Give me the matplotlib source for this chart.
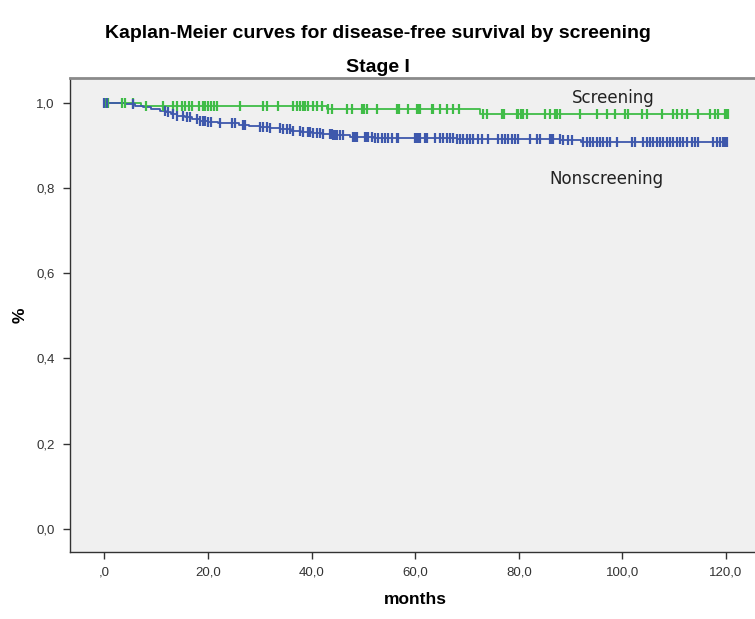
import numpy as np
import matplotlib
matplotlib.use("Agg")
from matplotlib import pyplot as plt
from matplotlib.ticker import FuncFormatter

plt.rcParams['font.family'] = ['Liberation Sans', 'DejaVu Sans']

# Kaplan-Meier step data (months, survival)
scr_times = [0, 7.0, 43.0, 72.5, 120.4]
scr_surv = [1.0, 0.994, 0.985, 0.973, 0.973]
scr_censor = [0.1, 0.7, 3.4, 4.0, 5.5, 8.0, 11.3, 13.3, 14.0, 15.0, 15.6, 16.3, 16.9,
              18.3, 19.1, 19.4, 20.0, 20.6, 21.2, 21.8, 26.2, 30.6, 31.4, 33.5, 36.4,
              37.2, 37.8, 38.4, 38.8, 39.3, 40.3, 41.1, 42.0, 43.2, 43.9, 46.8, 47.8,
              49.7, 50.1, 50.7, 52.6, 56.5, 56.9, 58.6, 60.4, 60.6, 60.9, 63.3, 63.4,
              64.8, 66.1, 67.3, 68.5, 73.1, 73.9, 76.8, 77.2, 79.7, 79.9, 80.4, 80.8,
              81.6, 85.1, 86.0, 87.0, 87.4, 87.9, 91.8, 95.1, 97.0, 98.6, 100.5, 101.1,
              103.8, 104.8, 107.6, 109.7, 110.5, 111.5, 112.5, 114.6, 116.9, 117.9,
              118.5, 119.8, 120.2, 120.4]

non_times = [0, 4, 6, 7.5, 9, 10.8, 12, 12.8, 14, 15.5, 17, 18.5, 20, 22, 26, 28, 30,
             32, 34, 36, 38, 40, 42, 44, 47.5, 52, 57, 68, 88, 92, 120.2]
non_surv = [1.0, 0.998, 0.994, 0.990, 0.986, 0.982, 0.978, 0.975, 0.970, 0.967, 0.962,
            0.958, 0.955, 0.952, 0.949, 0.946, 0.944, 0.941, 0.938, 0.935, 0.933, 0.929,
            0.927, 0.925, 0.920, 0.918, 0.917, 0.915, 0.912, 0.909, 0.909]
non_censor = [0.0, 0.5, 5.5, 11.7, 12.3, 13.3, 14.0, 15.2, 16.0, 16.5, 17.9, 18.5, 19.1,
              19.4, 20.0, 20.6, 22.3, 24.6, 25.2, 26.8, 27.2, 30.1, 30.6, 31.4, 32.0,
              33.9, 34.5, 35.3, 35.9, 36.4, 37.8, 38.4, 39.3, 39.7, 40.3, 41.1, 41.6,
              42.2, 43.6, 43.9, 44.1, 44.5, 44.9, 45.5, 46.1, 48.0, 48.4, 48.8, 50.3,
              50.7, 50.9, 51.7, 52.2, 52.8, 53.6, 54.2, 54.8, 55.5, 56.5, 56.7, 60.0,
              60.4, 60.6, 60.9, 61.9, 62.3, 63.8, 64.8, 65.4, 66.1, 66.7, 67.3, 68.1,
              68.7, 69.2, 70.0, 70.6, 71.2, 72.1, 72.9, 74.1, 76.0, 76.8, 77.3, 77.9,
              78.7, 79.3, 79.8, 82.2, 83.5, 84.1, 86.0, 86.4, 86.6, 87.9, 88.5, 89.5,
              90.3, 92.4, 93.2, 93.8, 94.4, 95.1, 95.7, 96.3, 97.0, 97.6, 98.9, 101.9,
              102.4, 104.0, 104.7, 105.3, 105.9, 106.7, 107.3, 107.8, 108.6, 109.2,
              109.8, 110.5, 111.1, 111.7, 112.5, 113.4, 114.0, 114.6, 117.5, 118.3,
              118.9, 119.5, 119.8, 120.2]

green = '#3fbc47'
blue = '#3e58ac'


def surv_at(t, times, surv):
    i = np.searchsorted(times, t, side='right') - 1
    return np.array(surv)[np.clip(i, 0, len(surv) - 1)]


fig = plt.figure(figsize=(7.55, 6.19), dpi=100)
ax = fig.add_axes([70 / 755, 1 - 551.7 / 619, 1 - 70 / 755, (551.7 - 78.3) / 619])
ax.set_facecolor('#f0f0f0')

ax.step(scr_times, scr_surv, where='post', color=green, lw=1.3, zorder=3)
ax.plot(scr_censor, surv_at(scr_censor, scr_times, scr_surv), ls='none', marker='|',
        ms=7, mew=1.6, color=green, zorder=4)
ax.step(non_times, non_surv, where='post', color=blue, lw=1.3, zorder=3)
ax.plot(non_censor, surv_at(non_censor, non_times, non_surv), ls='none', marker='|',
        ms=7, mew=1.6, color=blue, zorder=4)

ax.text(98.2, 1.011, 'Screening', fontsize=12, family='DejaVu Sans', color='#222222',
        ha='center', va='center')
ax.text(97.0, 0.822, 'Nonscreening', fontsize=12, family='DejaVu Sans', color='#222222',
        ha='center', va='center')

ax.set_xlim(-6.62, 125.6)
ax.set_ylim(-0.054, 1.058)
ax.set_xticks(np.arange(0, 121, 20))
ax.set_yticks(np.arange(0, 1.01, 0.2))


def xfmt(v, pos):
    s = '%.1f' % v
    s = s.replace('.', ',')
    return s[1:] if s.startswith('0') else s


ax.xaxis.set_major_formatter(FuncFormatter(xfmt))
ax.yaxis.set_major_formatter(FuncFormatter(lambda v, p: ('%.1f' % v).replace('.', ',')))
ax.tick_params(direction='out', length=5, width=1, color='#333333', labelsize=9.5,
               labelcolor='#333333', pad=6)

for side in ['left', 'bottom']:
    ax.spines[side].set_color('#333333')
    ax.spines[side].set_linewidth(1)
ax.spines['top'].set_color('#8a8a8a')
ax.spines['top'].set_linewidth(2)
ax.spines['right'].set_visible(False)

ax.set_xlabel('months', fontsize=12.5, fontweight='bold')
ax.xaxis.set_label_coords((415 - 70) / 685, -(600 - 551.7) / 473.4)
ax.set_ylabel('%', fontsize=12.5, fontweight='bold')
ax.yaxis.set_label_coords(-(70 - 20) / 685, (551.7 - 315) / 473.4)
ax.xaxis.label.set_va('center')
ax.yaxis.label.set_va('center')

fig.text(0.5, 1 - 33 / 619, 'Kaplan-Meier curves for disease-free survival by screening',
         fontsize=14, fontweight='bold', ha='center', va='center')
fig.text(0.5, 1 - 67 / 619, 'Stage I', fontsize=14, fontweight='bold', ha='center',
         va='center')

fig.savefig('out.png', dpi=100)
